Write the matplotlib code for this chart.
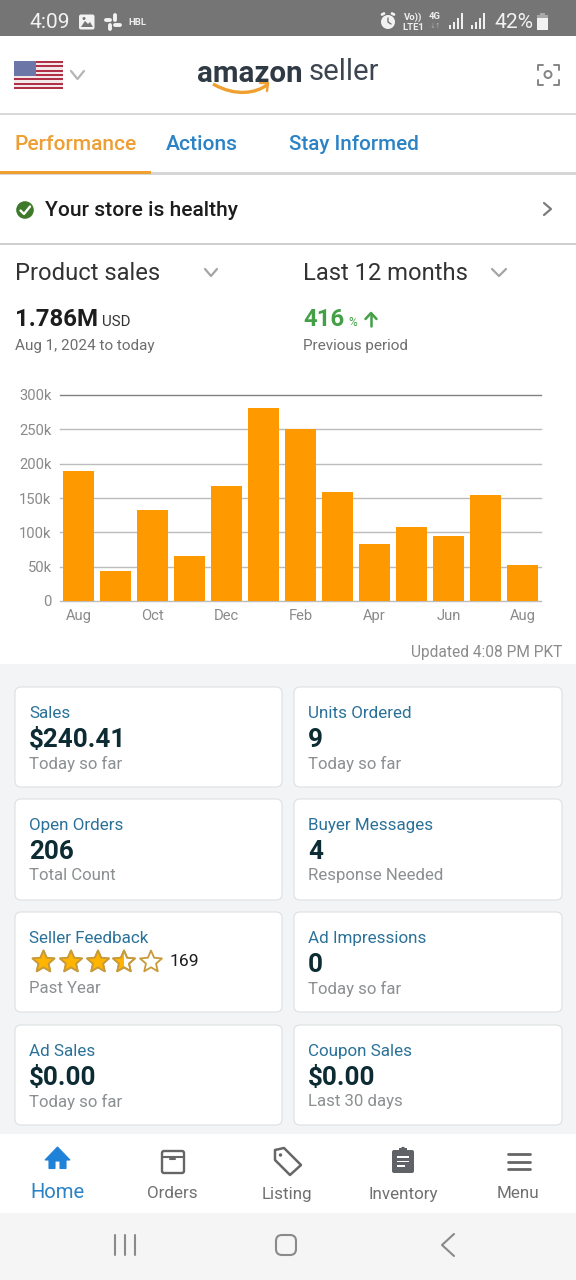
import matplotlib
matplotlib.use("Agg")
import matplotlib.pyplot as plt
from matplotlib.patches import Rectangle, FancyBboxPatch, Circle, Polygon, PathPatch
from matplotlib.path import Path
import numpy as np

plt.rcParams['font.family'] = ['Roboto', 'DejaVu Sans']

months = ["Aug", "Sep", "Oct", "Nov", "Dec", "Jan", "Feb", "Mar", "Apr", "May", "Jun", "Jul", "Aug "]
sales_k = [189, 44, 133, 66, 168, 280.5, 250, 158.5, 83, 108, 94, 155, 52]
y_ticks = [0, 50, 100, 150, 200, 250, 300]
y_labels = ["0", "50k", "100k", "150k", "200k", "250k", "300k"]

card_titles = ["Sales", "Units Ordered", "Open Orders", "Buyer Messages",
               "Seller Feedback", "Ad Impressions", "Ad Sales", "Coupon Sales"]
card_values = ["$240.41", "9", "206", "4", "", "0", "$0.00", "$0.00"]
card_notes = ["Today so far", "Today so far", "Total Count", "Response Needed",
              "Past Year", "Today so far", "Today so far", "Last 30 days"]
nav_labels = ["Home", "Orders", "Listing", "Inventory", "Menu"]

W, H = 576, 1280
fig = plt.figure(figsize=(W / 100, H / 100), dpi=100, facecolor="white")
ui = fig.add_axes([0, 0, 1, 1])
ui.set_xlim(0, W)
ui.set_ylim(H, 0)
ui.axis("off")


def t(x, y, s, px, color, weight="normal", ha="left"):
    ui.text(x, y + 1.5, s, fontsize=px * 0.72, color=color, fontweight=weight, ha=ha, va="center", zorder=6)


def rect(x0, y0, x1, y1, color, z=1):
    ui.add_patch(Rectangle((x0, y0), x1 - x0, y1 - y0, fc=color, ec="none", zorder=z))


def line(xs, ys, color, lw=1.5, z=3):
    ui.plot(xs, ys, color=color, lw=lw, solid_capstyle="round", solid_joinstyle="round", zorder=z)


# Bands
rect(0, 0, W, 36, "#757575")
rect(0, 113, W, 115, "#d8d8d8")
rect(0, 172, W, 174.5, "#d6d6d6")
rect(0, 170.5, 151, 174, "#f0a030", 2)
rect(0, 243, W, 244.5, "#d0d0d0")
rect(0, 664, W, 1134, "#f2f4f5")
rect(0, 1213, W, H, "#f5f5f5")

# Status bar
t(29, 21.5, "4:09", 21, "#f2f2f2")
ui.add_patch(FancyBboxPatch((79, 14.5), 15.5, 15, boxstyle="round,pad=0,rounding_size=2", fc="#f2f2f2", ec="none", zorder=3))
ui.add_patch(Polygon([[81, 27], [85, 21], [88, 24], [90, 22], [93, 27]], fc="#757575", ec="none", zorder=4))
ui.add_patch(Circle((84, 18.5), 1.5, fc="#757575", ec="none", zorder=4))
for xs, ys in [([105.5, 110], [19.5, 19.5]), ([115, 115], [15, 19.5]), ([114.5, 119.5], [25, 25]),
               ([109.5, 109.5], [25, 29]), ([119.5, 119.5], [19.5, 19.6]), ([109.5, 109.6], [15, 15]),
               ([105.5, 105.6], [25, 25]), ([115, 115.1], [29, 29])]:
    line(xs, ys, "#f2f2f2", 2.8)
t(128, 21, "HBL", 9.5, "#eeeeee", "bold")
ui.add_patch(Circle((388, 22), 7, fc="#f2f2f2", ec="none", zorder=3))
line([388, 388, 391], [18, 22, 24], "#757575", 1)
line([382, 384], [14.5, 13.5], "#f2f2f2", 2)
line([394, 392], [14.5, 13.5], "#f2f2f2", 2)
t(413, 16, "Vo))", 9.5, "#eeeeee", "bold", "center")
t(413, 25.5, "LTE1", 9.5, "#eeeeee", "bold", "center")
t(435, 15, "4G", 9.5, "#eeeeee", "bold", "center")
t(435, 25, "↓↑", 7, "#aaaaaa", "normal", "center")
for x0 in (449, 471):
    for i, h in enumerate((4, 7, 11, 16)):
        rect(x0 + i * 4, 29 - h, x0 + i * 4 + 2, 29, "#f0f0f0", 3)
t(494, 21.5, "42%", 21, "#f2f2f2")
rect(537, 18, 548, 30, "#f2f2f2", 3)
rect(537, 14.5, 548, 18, "#a8a8a8", 3)
rect(540, 13, 545, 15, "#a8a8a8", 3)

# Flag
fx0, fx1, fy0, fy1 = 14, 63, 61, 89
rect(fx0, fy0, fx1, fy1, "#f2e8ea", 2)
for i in range(7):
    y = fy0 + i * 2 * (fy1 - fy0) / 13
    rect(fx0, y, fx1, y + (fy1 - fy0) / 13, "#b03048", 3)
rect(fx0, fy0, 35.5, fy0 + 7 * (fy1 - fy0) / 13, "#6c77a8", 4)
line([71, 77.5, 84], [71, 79, 71], "#b5b5b5", 1.6)

# Logo
t(197, 72, "amazon", 29.5, "#2f3a45", "bold")
t(309, 70.5, "seller", 29.3, "#3d4650", "normal")
ui.add_patch(PathPatch(Path([(213, 84), (236, 97), (256, 93), (267, 85)],
                            [Path.MOVETO, Path.CURVE4, Path.CURVE4, Path.CURVE4]),
                       fc="none", ec="#f0a030", lw=2.4, zorder=3))
line([260, 268, 267], [83, 83, 91], "#f0a030", 1.7)

# Scanner icon
for x, y, dx in [(538, 64.5, 5), (558.5, 64.5, -5), (538, 84.5, 5), (558.5, 84.5, -5)]:
    sy = 1 if y < 75 else -1
    line([x + dx, x, x], [y, y, y + sy * 5], "#858585", 1.4)
ui.add_patch(Circle((548, 74.5), 3.5, fc="none", ec="#858585", lw=1.4, zorder=3))

# Tabs
t(14, 143.5, "Performance", 21, "#ee9f33", "medium")
t(166, 143.5, "Actions", 21, "#2b83c6", "medium")
t(289, 143.5, "Stay Informed", 20.7, "#2b83c6", "medium")

# Health row
ui.add_patch(Circle((25, 210), 8.8, fc="#3f7a2a", ec="none", zorder=3))
line([20.5, 24, 30], [210.5, 214, 206.5], "white", 1.7, 4)
t(45, 209.5, "Your store is healthy", 21, "#1c1c1c", "medium")
line([544, 551, 544], [203, 209, 215], "#7d7d7d", 1.6)

# Selectors
t(15, 272.5, "Product sales", 23.8, "#333333")
line([205, 211, 217], [269, 276, 269], "#a5a5a5", 1.6)
t(303, 272.5, "Last 12 months", 23.8, "#333333")
line([492, 499, 506], [269, 276, 269], "#a5a5a5", 1.6)
t(15, 318.5, "1.786M", 24, "#1d1d1d", "bold")
t(102, 320.5, "USD", 15, "#333333")
t(15, 344.5, "Aug 1, 2024 to today", 15.2, "#6e6e6e")
t(303, 318.5, "416", 24, "#43a047", "bold")
t(348, 320.5, "%", 12, "#43a047")
line([371, 371], [325.5, 313.5], "#43a047", 1.8)
line([365.5, 371, 376.5], [319, 313, 319], "#43a047", 1.8)
t(303, 344.5, "Previous period", 15.2, "#6e6e6e")
t(562, 651.5, "Updated 4:08 PM PKT", 15.5, "#8c8c8c", "normal", "right")

# Chart: axes span x 60-541, y 395-601 in pixels
ax = fig.add_axes([60 / W, 1 - 601 / H, (541 - 60) / W, (601 - 395) / H], facecolor="none")
pos = np.arange(len(months))
ax.bar(pos, sales_k, width=0.845, color="#ff9900", zorder=3)
ax.set_xlim(-0.5, len(months) - 0.5)
ax.set_ylim(0, 300)
ax.set_yticks(y_ticks, y_labels)
ax.set_xticks(pos[::2], [m.strip() for m in months[::2]])
ax.grid(axis="y", color="#bcbcbc", lw=1.0, zorder=1)
ax.set_axisbelow(True)
for s in ax.spines.values():
    s.set_visible(False)
ax.tick_params(length=0, labelcolor="#8a8a8a", labelsize=14.8 * 0.72)
ax.tick_params(axis="y", pad=6)
ax.tick_params(axis="x", pad=5.5)
for gl in ax.get_ygridlines():
    gl.set_clip_on(False)
ax.get_ygridlines()[-1].set_color("#808080")

# Cards
lefts = [(15, 282), (294, 562)]
tops = [(687, 787), (799, 900), (912, 1012), (1025, 1125)]
for i, title in enumerate(card_titles):
    x0, x1 = lefts[i % 2]
    y0, y1 = tops[i // 2]
    ui.add_patch(FancyBboxPatch((x0, y0), x1 - x0, y1 - y0, boxstyle="round,pad=0,rounding_size=6",
                                fc="white", ec="#e0e3e5", lw=0.9, zorder=2))
    t(x0 + 14, y0 + 24.8, title, 17, "#2a7199")
    if card_values[i]:
        t(x0 + 14, y0 + 51.2, card_values[i], 26, "#0c2b33", "bold")
    t(x0 + 14, y0 + 75, card_notes[i], 16.8, "#8b8f91")

# Star rating
star_x = [43.5, 71, 98, 124, 151]
fill_frac = [1, 1, 1, 0.5, 0]
star_y = 962
for sx, frac in zip(star_x, fill_frac):
    ang = np.deg2rad(np.arange(0, 360, 36) - 90)
    rad = np.where(np.arange(10) % 2 == 0, 11.5, 5.3)
    pts = np.c_[sx + rad * np.cos(ang), star_y + rad * np.sin(ang)]
    back = Polygon(pts, fc="white", ec="#c89a3a", lw=1.3, zorder=3, joinstyle="round")
    ui.add_patch(back)
    if frac > 0:
        fp = Polygon(pts, fc="#ffb400", ec="none", zorder=4)
        ui.add_patch(fp)
        fp.set_clip_path(Rectangle((sx - 12, star_y - 13), 24 * frac, 26, transform=ui.transData))
        edge = Polygon(pts, fc="none", ec="#c89a3a", lw=1.3, zorder=5, joinstyle="round")
        ui.add_patch(edge)
t(170, 960.5, "169", 17.5, "#1d1d1d")

# Bottom navigation
nav_x = [57, 172, 287, 403, 518]
for x, lab in zip(nav_x, nav_labels):
    home = lab == "Home"
    t(x, 1191.5 if home else 1192.5, lab, 20.3 if home else 17, "#2b83c6" if home else "#707070", "normal", "center")

# Home icon
ui.add_patch(Polygon([[45, 1160], [57.5, 1147], [70, 1160], [66, 1160], [66, 1168.5], [60, 1168.5], [60, 1161],
                      [55, 1161], [55, 1168.5], [49, 1168.5], [49, 1160]], fc="#1e82d9", ec="#1e82d9", lw=0.8, zorder=3))
# Orders icon
ui.add_patch(FancyBboxPatch((162, 1151), 22, 22, boxstyle="round,pad=0,rounding_size=2", fc="none", ec="#666666", lw=1.7, zorder=3))
line([162, 184], [1156.5, 1156.5], "#666666", 1.5)
line([170, 175], [1158.5, 1158.5], "#666666", 1.5)
# Listing icon
ui.add_patch(Polygon([[275, 1150], [284, 1148], [301, 1165], [290, 1175], [275, 1160]], closed=True,
                     fc="none", ec="#666666", lw=1.8, joinstyle="round", zorder=3))
ui.add_patch(Circle((280.5, 1155), 1.7, fc="#666666", ec="none", zorder=3))
# Inventory icon
ui.add_patch(FancyBboxPatch((392, 1150), 22, 23, boxstyle="round,pad=0,rounding_size=2", fc="#5f6368", ec="none", zorder=3))
rect(399, 1148, 407, 1153, "#5f6368", 3)
ui.add_patch(Circle((403, 1149), 2.2, fc="#5f6368", ec="none", zorder=3))
for y, x1 in [(1157, 409), (1161.5, 409), (1166, 405)]:
    rect(397, y - 0.9, x1, y + 0.9, "white", 4)
# Menu icon
for y in (1154, 1161.5, 1169):
    line([508, 530], [y, y], "#666666", 2)

# System navigation
for x in (115, 125, 135):
    line([x, x], [1235, 1255], "#8a8a8a", 1.5)
ui.add_patch(FancyBboxPatch((276, 1235), 20, 20, boxstyle="round,pad=0,rounding_size=6", fc="none", ec="#8a8a8a", lw=1.5, zorder=3))
line([454, 442, 454], [1234, 1245, 1256], "#8a8a8a", 1.5)

fig.savefig("out.png", dpi=100, facecolor="white")
